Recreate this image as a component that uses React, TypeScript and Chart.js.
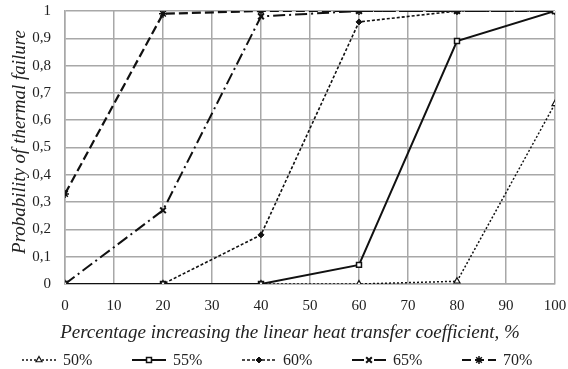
import React, { useEffect, useRef } from 'react';
import { Chart, registerables } from 'chart.js';
import { drawPoint } from 'chart.js/helpers';

Chart.register(...registerables);

// ---- data ----
const xValues = [0, 20, 40, 60, 80, 100];
const series50 = [0, 0, 0, 0, 0.01, 0.66];
const series55 = [0, 0, 0, 0.07, 0.89, 1];
const series60 = [0, 0, 0.18, 0.96, 1, 1];
const series65 = [0, 0.27, 0.98, 1, 1, 1];
const series70 = [0.33, 0.99, 1, 1, 1, 1];
const seriesNames = ['50%', '55%', '60%', '65%', '70%'];
const xTitle = 'Percentage increasing the linear heat transfer coefficient, %';
const yTitle = 'Probability of thermal failure';

const allSeries = [series50, series55, series60, series65, series70];

const seriesStyles = [
  { dash: [2, 2], width: 1.5, point: 'triangle', radius: 3.5, bg: '#ffffff', pbw: 1.2 },
  { dash: [], width: 2, point: 'rect', radius: 3.5, bg: '#ffffff', pbw: 1.5 },
  { dash: [3, 2], width: 1.6, point: 'rectRot', radius: 3, bg: '#111111', pbw: 1 },
  { dash: [12, 4, 2, 4], width: 2, point: 'crossRot', radius: 4, bg: '#111111', pbw: 2 },
  { dash: [9, 4], width: 2.2, point: 'star', radius: 4, bg: '#111111', pbw: 1.5 },
];

const FONT = '"Liberation Serif", "Times New Roman", serif';
const TEXT = '#222222';
const GRID = '#a8a8a8';

const textPlugin = {
  id: 'textAndLegend',
  afterDraw(chart: any) {
    const ctx = chart.ctx as CanvasRenderingContext2D;
    // axis titles
    ctx.save();
    ctx.fillStyle = TEXT;
    ctx.font = `italic 19px ${FONT}`;
    ctx.textAlign = 'center';
    ctx.textBaseline = 'alphabetic';
    ctx.fillText(xTitle, 290, 338);
    ctx.translate(24.5, 142);
    ctx.rotate(-Math.PI / 2);
    ctx.fillText(yTitle, 0, 0);
    ctx.restore();

    // legend
    const y = 360;
    const stride = 110;
    const lineLen = 34;
    const gap = 7;
    const start = 22;
    chart.data.datasets.forEach((ds: any, i: number) => {
      const x0 = start + i * stride;
      ctx.save();
      ctx.strokeStyle = ds.borderColor;
      ctx.lineWidth = ds.borderWidth;
      ctx.setLineDash(ds.borderDash || []);
      ctx.beginPath();
      ctx.moveTo(x0, y);
      ctx.lineTo(x0 + lineLen, y);
      ctx.stroke();
      ctx.setLineDash([]);
      ctx.fillStyle = ds.pointBackgroundColor;
      ctx.strokeStyle = ds.pointBorderColor;
      ctx.lineWidth = ds.pointBorderWidth;
      drawPoint(ctx, { pointStyle: ds.pointStyle, radius: ds.pointRadius, borderWidth: ds.pointBorderWidth, rotation: 0 } as any, x0 + lineLen / 2, y);
      ctx.fillStyle = TEXT;
      ctx.font = `16px ${FONT}`;
      ctx.textBaseline = 'middle';
      ctx.textAlign = 'left';
      ctx.fillText(ds.label, x0 + lineLen + gap, y + 1);
      ctx.restore();
    });
  },
};

export default function App() {
  const ref = useRef<HTMLCanvasElement | null>(null);

  useEffect(() => {
    if (!ref.current) return;
    const datasets = allSeries.map((s, i) => {
      const st = seriesStyles[i];
      return {
        label: seriesNames[i],
        data: s.map((v, j) => ({ x: xValues[j], y: v })),
        borderColor: '#111111',
        borderWidth: st.width,
        borderDash: st.dash,
        pointStyle: st.point,
        pointRadius: st.radius,
        pointBackgroundColor: st.bg,
        pointBorderColor: '#111111',
        pointBorderWidth: st.pbw,
        fill: false,
        tension: 0,
      };
    });

    const chart = new Chart(ref.current, {
      type: 'line',
      data: { datasets } as any,
      plugins: [textPlugin],
      options: {
        animation: false,
        responsive: false,
        layout: { padding: { left: 0, right: 0, top: 0, bottom: 29 } },
        plugins: {
          legend: { display: false },
          tooltip: { enabled: false },
        },
        scales: {
          x: {
            type: 'linear',
            min: 0,
            max: 100,
            afterFit: (scale: any) => {
              scale.height = 56;
              scale.paddingLeft = 0;
              scale.paddingRight = 13;
            },
            ticks: { stepSize: 10, padding: 13, color: TEXT, font: { family: FONT, size: 15 } },
            grid: { color: GRID, lineWidth: 1.5, drawTicks: false },
            border: { color: GRID, width: 1.5 },
            title: { display: false },
          },
          y: {
            type: 'linear',
            min: 0,
            max: 1,
            afterFit: (scale: any) => {
              scale.width = 65;
              scale.paddingTop = 11;
              scale.paddingBottom = 0;
            },
            ticks: {
              stepSize: 0.1,
              padding: 14,
              color: TEXT,
              font: { family: FONT, size: 15 },
              callback: (v: any) => {
                const r = Math.round(Number(v) * 10) / 10;
                return String(r).replace('.', ',');
              },
            },
            grid: { color: GRID, lineWidth: 1.5, drawTicks: false },
            border: { color: GRID, width: 1.5 },
            title: { display: false },
          },
        },
      } as any,
    });
    return () => chart.destroy();
  }, []);

  return (
    <div style={{ position: 'fixed', left: 0, top: 0, width: 568, height: 369, background: '#ffffff' }}>
      <canvas ref={ref} width={568} height={369} />
    </div>
  );
}
